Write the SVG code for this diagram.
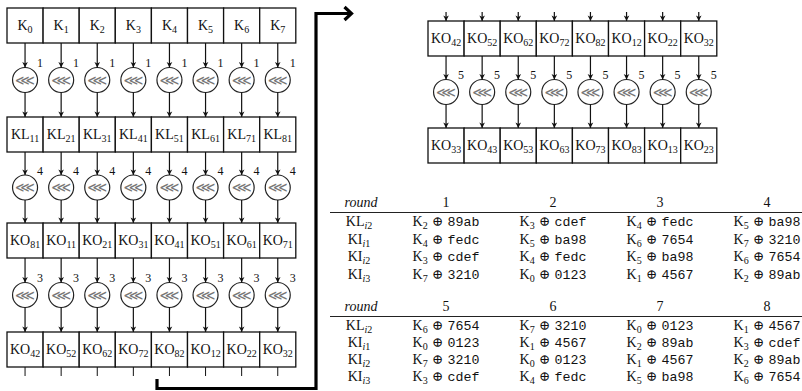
<svg xmlns="http://www.w3.org/2000/svg" width="802" height="391" viewBox="0 0 802 391">
<defs>
<marker id="ah" viewBox="-6 -4 7 8" refX="0" refY="0" markerWidth="7" markerHeight="8" markerUnits="userSpaceOnUse" orient="auto">
<path d="M0,0 L-5.5,-2.8 L-4,0 L-5.5,2.8 Z" fill="#111"/>
</marker>
</defs>
<style>
rect{fill:#fff;stroke:#111;stroke-width:1.3}
text{font-family:"Liberation Serif",serif;fill:#111}
.bt{font-size:14px;text-anchor:middle}
.s{font-size:10px}
circle{fill:#fff;stroke:#222;stroke-width:1.2}
.rot{font-family:"DejaVu Sans",sans-serif;font-size:14px;fill:#777;text-anchor:middle}
.lb{font-size:12px;text-anchor:middle}
.cn line{stroke:#111;stroke-width:1.2;marker-end:url(#ah)}
.cn line.tk{marker-end:none;stroke-width:1}
.tb{font-size:14px;text-anchor:middle}
.ts{font-size:10px}
.m{font-family:"Liberation Mono","DejaVu Sans Mono",monospace;font-size:13.3px}
.op{font-family:"DejaVu Serif",serif;font-size:13.5px}
.i{font-style:italic}
.rule{stroke:#222;stroke-width:1.2}
.thick{fill:none;stroke:#000;stroke-width:3.2}
</style>

<!-- Left block row 1 -->
<g id="k0"><rect x="7" y="8" width="36.1" height="35"/><text class="bt" x="25.05" y="30">K<tspan class="s" dy="3">0</tspan></text></g>
<g id="k1"><rect x="43.1" y="8" width="36.1" height="35"/><text class="bt" x="61.15" y="30">K<tspan class="s" dy="3">1</tspan></text></g>
<g id="k2"><rect x="79.2" y="8" width="36.1" height="35"/><text class="bt" x="97.25" y="30">K<tspan class="s" dy="3">2</tspan></text></g>
<g id="k3"><rect x="115.3" y="8" width="36.1" height="35"/><text class="bt" x="133.35" y="30">K<tspan class="s" dy="3">3</tspan></text></g>
<g id="k4"><rect x="151.4" y="8" width="36.1" height="35"/><text class="bt" x="169.45" y="30">K<tspan class="s" dy="3">4</tspan></text></g>
<g id="k5"><rect x="187.5" y="8" width="36.1" height="35"/><text class="bt" x="205.55" y="30">K<tspan class="s" dy="3">5</tspan></text></g>
<g id="k6"><rect x="223.6" y="8" width="36.1" height="35"/><text class="bt" x="241.65" y="30">K<tspan class="s" dy="3">6</tspan></text></g>
<g id="k7"><rect x="259.7" y="8" width="36.1" height="35"/><text class="bt" x="277.75" y="30">K<tspan class="s" dy="3">7</tspan></text></g>

<!-- rotations row 1 -->
<g id="r1-0"><circle cx="25.05" cy="80" r="12.5"/><text class="rot" x="25.05" y="84.5">⋘</text><text class="lb" x="40" y="67">1</text></g>
<g id="r1-1"><circle cx="61.15" cy="80" r="12.5"/><text class="rot" x="61.15" y="84.5">⋘</text><text class="lb" x="76.1" y="67">1</text></g>
<g id="r1-2"><circle cx="97.25" cy="80" r="12.5"/><text class="rot" x="97.25" y="84.5">⋘</text><text class="lb" x="112.2" y="67">1</text></g>
<g id="r1-3"><circle cx="133.35" cy="80" r="12.5"/><text class="rot" x="133.35" y="84.5">⋘</text><text class="lb" x="148.3" y="67">1</text></g>
<g id="r1-4"><circle cx="169.45" cy="80" r="12.5"/><text class="rot" x="169.45" y="84.5">⋘</text><text class="lb" x="184.4" y="67">1</text></g>
<g id="r1-5"><circle cx="205.55" cy="80" r="12.5"/><text class="rot" x="205.55" y="84.5">⋘</text><text class="lb" x="220.5" y="67">1</text></g>
<g id="r1-6"><circle cx="241.65" cy="80" r="12.5"/><text class="rot" x="241.65" y="84.5">⋘</text><text class="lb" x="256.6" y="67">1</text></g>
<g id="r1-7"><circle cx="277.75" cy="80" r="12.5"/><text class="rot" x="277.75" y="84.5">⋘</text><text class="lb" x="292.7" y="67">1</text></g>

<!-- row 2 -->
<g id="kl11"><rect x="7" y="117" width="36.1" height="35"/><text class="bt" x="25.05" y="139">KL<tspan class="s" dy="3">11</tspan></text></g>
<g id="kl21"><rect x="43.1" y="117" width="36.1" height="35"/><text class="bt" x="61.15" y="139">KL<tspan class="s" dy="3">21</tspan></text></g>
<g id="kl31"><rect x="79.2" y="117" width="36.1" height="35"/><text class="bt" x="97.25" y="139">KL<tspan class="s" dy="3">31</tspan></text></g>
<g id="kl41"><rect x="115.3" y="117" width="36.1" height="35"/><text class="bt" x="133.35" y="139">KL<tspan class="s" dy="3">41</tspan></text></g>
<g id="kl51"><rect x="151.4" y="117" width="36.1" height="35"/><text class="bt" x="169.45" y="139">KL<tspan class="s" dy="3">51</tspan></text></g>
<g id="kl61"><rect x="187.5" y="117" width="36.1" height="35"/><text class="bt" x="205.55" y="139">KL<tspan class="s" dy="3">61</tspan></text></g>
<g id="kl71"><rect x="223.6" y="117" width="36.1" height="35"/><text class="bt" x="241.65" y="139">KL<tspan class="s" dy="3">71</tspan></text></g>
<g id="kl81"><rect x="259.7" y="117" width="36.1" height="35"/><text class="bt" x="277.75" y="139">KL<tspan class="s" dy="3">81</tspan></text></g>

<!-- rotations row 2 -->
<g id="r2-0"><circle cx="25.05" cy="187.5" r="12.5"/><text class="rot" x="25.05" y="192">⋘</text><text class="lb" x="40" y="174.5">4</text></g>
<g id="r2-1"><circle cx="61.15" cy="187.5" r="12.5"/><text class="rot" x="61.15" y="192">⋘</text><text class="lb" x="76.1" y="174.5">4</text></g>
<g id="r2-2"><circle cx="97.25" cy="187.5" r="12.5"/><text class="rot" x="97.25" y="192">⋘</text><text class="lb" x="112.2" y="174.5">4</text></g>
<g id="r2-3"><circle cx="133.35" cy="187.5" r="12.5"/><text class="rot" x="133.35" y="192">⋘</text><text class="lb" x="148.3" y="174.5">4</text></g>
<g id="r2-4"><circle cx="169.45" cy="187.5" r="12.5"/><text class="rot" x="169.45" y="192">⋘</text><text class="lb" x="184.4" y="174.5">4</text></g>
<g id="r2-5"><circle cx="205.55" cy="187.5" r="12.5"/><text class="rot" x="205.55" y="192">⋘</text><text class="lb" x="220.5" y="174.5">4</text></g>
<g id="r2-6"><circle cx="241.65" cy="187.5" r="12.5"/><text class="rot" x="241.65" y="192">⋘</text><text class="lb" x="256.6" y="174.5">4</text></g>
<g id="r2-7"><circle cx="277.75" cy="187.5" r="12.5"/><text class="rot" x="277.75" y="192">⋘</text><text class="lb" x="292.7" y="174.5">4</text></g>

<!-- row 3 -->
<g id="ko81a"><rect x="7" y="223" width="36.1" height="35"/><text class="bt" x="25.05" y="245">KO<tspan class="s" dy="3">81</tspan></text></g>
<g id="ko11a"><rect x="43.1" y="223" width="36.1" height="35"/><text class="bt" x="61.15" y="245">KO<tspan class="s" dy="3">11</tspan></text></g>
<g id="ko21a"><rect x="79.2" y="223" width="36.1" height="35"/><text class="bt" x="97.25" y="245">KO<tspan class="s" dy="3">21</tspan></text></g>
<g id="ko31a"><rect x="115.3" y="223" width="36.1" height="35"/><text class="bt" x="133.35" y="245">KO<tspan class="s" dy="3">31</tspan></text></g>
<g id="ko41a"><rect x="151.4" y="223" width="36.1" height="35"/><text class="bt" x="169.45" y="245">KO<tspan class="s" dy="3">41</tspan></text></g>
<g id="ko51a"><rect x="187.5" y="223" width="36.1" height="35"/><text class="bt" x="205.55" y="245">KO<tspan class="s" dy="3">51</tspan></text></g>
<g id="ko61a"><rect x="223.6" y="223" width="36.1" height="35"/><text class="bt" x="241.65" y="245">KO<tspan class="s" dy="3">61</tspan></text></g>
<g id="ko71a"><rect x="259.7" y="223" width="36.1" height="35"/><text class="bt" x="277.75" y="245">KO<tspan class="s" dy="3">71</tspan></text></g>

<!-- rotations row 3 -->
<g id="r3-0"><circle cx="25.05" cy="295" r="12.5"/><text class="rot" x="25.05" y="299.5">⋘</text><text class="lb" x="40" y="282">3</text></g>
<g id="r3-1"><circle cx="61.15" cy="295" r="12.5"/><text class="rot" x="61.15" y="299.5">⋘</text><text class="lb" x="76.1" y="282">3</text></g>
<g id="r3-2"><circle cx="97.25" cy="295" r="12.5"/><text class="rot" x="97.25" y="299.5">⋘</text><text class="lb" x="112.2" y="282">3</text></g>
<g id="r3-3"><circle cx="133.35" cy="295" r="12.5"/><text class="rot" x="133.35" y="299.5">⋘</text><text class="lb" x="148.3" y="282">3</text></g>
<g id="r3-4"><circle cx="169.45" cy="295" r="12.5"/><text class="rot" x="169.45" y="299.5">⋘</text><text class="lb" x="184.4" y="282">3</text></g>
<g id="r3-5"><circle cx="205.55" cy="295" r="12.5"/><text class="rot" x="205.55" y="299.5">⋘</text><text class="lb" x="220.5" y="282">3</text></g>
<g id="r3-6"><circle cx="241.65" cy="295" r="12.5"/><text class="rot" x="241.65" y="299.5">⋘</text><text class="lb" x="256.6" y="282">3</text></g>
<g id="r3-7"><circle cx="277.75" cy="295" r="12.5"/><text class="rot" x="277.75" y="299.5">⋘</text><text class="lb" x="292.7" y="282">3</text></g>

<!-- row 4 -->
<g id="ko42a"><rect x="7" y="332" width="36.1" height="35"/><text class="bt" x="25.05" y="354">KO<tspan class="s" dy="3">42</tspan></text></g>
<g id="ko52a"><rect x="43.1" y="332" width="36.1" height="35"/><text class="bt" x="61.15" y="354">KO<tspan class="s" dy="3">52</tspan></text></g>
<g id="ko62a"><rect x="79.2" y="332" width="36.1" height="35"/><text class="bt" x="97.25" y="354">KO<tspan class="s" dy="3">62</tspan></text></g>
<g id="ko72a"><rect x="115.3" y="332" width="36.1" height="35"/><text class="bt" x="133.35" y="354">KO<tspan class="s" dy="3">72</tspan></text></g>
<g id="ko82a"><rect x="151.4" y="332" width="36.1" height="35"/><text class="bt" x="169.45" y="354">KO<tspan class="s" dy="3">82</tspan></text></g>
<g id="ko12a"><rect x="187.5" y="332" width="36.1" height="35"/><text class="bt" x="205.55" y="354">KO<tspan class="s" dy="3">12</tspan></text></g>
<g id="ko22a"><rect x="223.6" y="332" width="36.1" height="35"/><text class="bt" x="241.65" y="354">KO<tspan class="s" dy="3">22</tspan></text></g>
<g id="ko32a"><rect x="259.7" y="332" width="36.1" height="35"/><text class="bt" x="277.75" y="354">KO<tspan class="s" dy="3">32</tspan></text></g>

<!-- Right block top row -->
<g id="ko42b"><rect x="428" y="21" width="36.1" height="35"/><text class="bt" x="446.05" y="43">KO<tspan class="s" dy="3">42</tspan></text></g>
<g id="ko52b"><rect x="464.1" y="21" width="36.1" height="35"/><text class="bt" x="482.15" y="43">KO<tspan class="s" dy="3">52</tspan></text></g>
<g id="ko62b"><rect x="500.2" y="21" width="36.1" height="35"/><text class="bt" x="518.25" y="43">KO<tspan class="s" dy="3">62</tspan></text></g>
<g id="ko72b"><rect x="536.3" y="21" width="36.1" height="35"/><text class="bt" x="554.35" y="43">KO<tspan class="s" dy="3">72</tspan></text></g>
<g id="ko82b"><rect x="572.4" y="21" width="36.1" height="35"/><text class="bt" x="590.45" y="43">KO<tspan class="s" dy="3">82</tspan></text></g>
<g id="ko12b"><rect x="608.5" y="21" width="36.1" height="35"/><text class="bt" x="626.55" y="43">KO<tspan class="s" dy="3">12</tspan></text></g>
<g id="ko22b"><rect x="644.6" y="21" width="36.1" height="35"/><text class="bt" x="662.65" y="43">KO<tspan class="s" dy="3">22</tspan></text></g>
<g id="ko32b"><rect x="680.7" y="21" width="36.1" height="35"/><text class="bt" x="698.75" y="43">KO<tspan class="s" dy="3">32</tspan></text></g>

<!-- right rotations -->
<g id="r4-0"><circle cx="446.05" cy="92" r="12.5"/><text class="rot" x="446.05" y="96.5">⋘</text><text class="lb" x="461" y="79">5</text></g>
<g id="r4-1"><circle cx="482.15" cy="92" r="12.5"/><text class="rot" x="482.15" y="96.5">⋘</text><text class="lb" x="497.1" y="79">5</text></g>
<g id="r4-2"><circle cx="518.25" cy="92" r="12.5"/><text class="rot" x="518.25" y="96.5">⋘</text><text class="lb" x="533.2" y="79">5</text></g>
<g id="r4-3"><circle cx="554.35" cy="92" r="12.5"/><text class="rot" x="554.35" y="96.5">⋘</text><text class="lb" x="569.3" y="79">5</text></g>
<g id="r4-4"><circle cx="590.45" cy="92" r="12.5"/><text class="rot" x="590.45" y="96.5">⋘</text><text class="lb" x="605.4" y="79">5</text></g>
<g id="r4-5"><circle cx="626.55" cy="92" r="12.5"/><text class="rot" x="626.55" y="96.5">⋘</text><text class="lb" x="641.5" y="79">5</text></g>
<g id="r4-6"><circle cx="662.65" cy="92" r="12.5"/><text class="rot" x="662.65" y="96.5">⋘</text><text class="lb" x="677.6" y="79">5</text></g>
<g id="r4-7"><circle cx="698.75" cy="92" r="12.5"/><text class="rot" x="698.75" y="96.5">⋘</text><text class="lb" x="713.7" y="79">5</text></g>

<!-- right bottom row -->
<g id="ko33"><rect x="428" y="128" width="36.1" height="35"/><text class="bt" x="446.05" y="150">KO<tspan class="s" dy="3">33</tspan></text></g>
<g id="ko43"><rect x="464.1" y="128" width="36.1" height="35"/><text class="bt" x="482.15" y="150">KO<tspan class="s" dy="3">43</tspan></text></g>
<g id="ko53"><rect x="500.2" y="128" width="36.1" height="35"/><text class="bt" x="518.25" y="150">KO<tspan class="s" dy="3">53</tspan></text></g>
<g id="ko63"><rect x="536.3" y="128" width="36.1" height="35"/><text class="bt" x="554.35" y="150">KO<tspan class="s" dy="3">63</tspan></text></g>
<g id="ko73"><rect x="572.4" y="128" width="36.1" height="35"/><text class="bt" x="590.45" y="150">KO<tspan class="s" dy="3">73</tspan></text></g>
<g id="ko83"><rect x="608.5" y="128" width="36.1" height="35"/><text class="bt" x="626.55" y="150">KO<tspan class="s" dy="3">83</tspan></text></g>
<g id="ko13"><rect x="644.6" y="128" width="36.1" height="35"/><text class="bt" x="662.65" y="150">KO<tspan class="s" dy="3">13</tspan></text></g>
<g id="ko23"><rect x="680.7" y="128" width="36.1" height="35"/><text class="bt" x="698.75" y="150">KO<tspan class="s" dy="3">23</tspan></text></g>

<!-- connectors -->
<g id="connectors" class="cn">
<line x1="25.05" y1="43" x2="25.05" y2="67.5"/><line x1="61.15" y1="43" x2="61.15" y2="67.5"/><line x1="97.25" y1="43" x2="97.25" y2="67.5"/><line x1="133.35" y1="43" x2="133.35" y2="67.5"/><line x1="169.45" y1="43" x2="169.45" y2="67.5"/><line x1="205.55" y1="43" x2="205.55" y2="67.5"/><line x1="241.65" y1="43" x2="241.65" y2="67.5"/><line x1="277.75" y1="43" x2="277.75" y2="67.5"/>
<line x1="25.05" y1="92.5" x2="25.05" y2="117"/><line x1="61.15" y1="92.5" x2="61.15" y2="117"/><line x1="97.25" y1="92.5" x2="97.25" y2="117"/><line x1="133.35" y1="92.5" x2="133.35" y2="117"/><line x1="169.45" y1="92.5" x2="169.45" y2="117"/><line x1="205.55" y1="92.5" x2="205.55" y2="117"/><line x1="241.65" y1="92.5" x2="241.65" y2="117"/><line x1="277.75" y1="92.5" x2="277.75" y2="117"/>
<line x1="25.05" y1="152" x2="25.05" y2="175"/><line x1="61.15" y1="152" x2="61.15" y2="175"/><line x1="97.25" y1="152" x2="97.25" y2="175"/><line x1="133.35" y1="152" x2="133.35" y2="175"/><line x1="169.45" y1="152" x2="169.45" y2="175"/><line x1="205.55" y1="152" x2="205.55" y2="175"/><line x1="241.65" y1="152" x2="241.65" y2="175"/><line x1="277.75" y1="152" x2="277.75" y2="175"/>
<line x1="25.05" y1="200" x2="25.05" y2="223"/><line x1="61.15" y1="200" x2="61.15" y2="223"/><line x1="97.25" y1="200" x2="97.25" y2="223"/><line x1="133.35" y1="200" x2="133.35" y2="223"/><line x1="169.45" y1="200" x2="169.45" y2="223"/><line x1="205.55" y1="200" x2="205.55" y2="223"/><line x1="241.65" y1="200" x2="241.65" y2="223"/><line x1="277.75" y1="200" x2="277.75" y2="223"/>
<line x1="25.05" y1="258" x2="25.05" y2="282.5"/><line x1="61.15" y1="258" x2="61.15" y2="282.5"/><line x1="97.25" y1="258" x2="97.25" y2="282.5"/><line x1="133.35" y1="258" x2="133.35" y2="282.5"/><line x1="169.45" y1="258" x2="169.45" y2="282.5"/><line x1="205.55" y1="258" x2="205.55" y2="282.5"/><line x1="241.65" y1="258" x2="241.65" y2="282.5"/><line x1="277.75" y1="258" x2="277.75" y2="282.5"/>
<line x1="25.05" y1="307.5" x2="25.05" y2="332"/><line x1="61.15" y1="307.5" x2="61.15" y2="332"/><line x1="97.25" y1="307.5" x2="97.25" y2="332"/><line x1="133.35" y1="307.5" x2="133.35" y2="332"/><line x1="169.45" y1="307.5" x2="169.45" y2="332"/><line x1="205.55" y1="307.5" x2="205.55" y2="332"/><line x1="241.65" y1="307.5" x2="241.65" y2="332"/><line x1="277.75" y1="307.5" x2="277.75" y2="332"/>
<line class="tk" x1="25.05" y1="367" x2="25.05" y2="376"/><line class="tk" x1="61.15" y1="367" x2="61.15" y2="376"/><line class="tk" x1="97.25" y1="367" x2="97.25" y2="376"/><line class="tk" x1="133.35" y1="367" x2="133.35" y2="376"/><line class="tk" x1="169.45" y1="367" x2="169.45" y2="376"/><line class="tk" x1="205.55" y1="367" x2="205.55" y2="376"/><line class="tk" x1="241.65" y1="367" x2="241.65" y2="376"/><line class="tk" x1="277.75" y1="367" x2="277.75" y2="376"/>
<line x1="446.05" y1="12" x2="446.05" y2="21"/><line x1="482.15" y1="12" x2="482.15" y2="21"/><line x1="518.25" y1="12" x2="518.25" y2="21"/><line x1="554.35" y1="12" x2="554.35" y2="21"/><line x1="590.45" y1="12" x2="590.45" y2="21"/><line x1="626.55" y1="12" x2="626.55" y2="21"/><line x1="662.65" y1="12" x2="662.65" y2="21"/><line x1="698.75" y1="12" x2="698.75" y2="21"/>
<line x1="446.05" y1="56" x2="446.05" y2="79.5"/><line x1="482.15" y1="56" x2="482.15" y2="79.5"/><line x1="518.25" y1="56" x2="518.25" y2="79.5"/><line x1="554.35" y1="56" x2="554.35" y2="79.5"/><line x1="590.45" y1="56" x2="590.45" y2="79.5"/><line x1="626.55" y1="56" x2="626.55" y2="79.5"/><line x1="662.65" y1="56" x2="662.65" y2="79.5"/><line x1="698.75" y1="56" x2="698.75" y2="79.5"/>
<line x1="446.05" y1="104.5" x2="446.05" y2="128"/><line x1="482.15" y1="104.5" x2="482.15" y2="128"/><line x1="518.25" y1="104.5" x2="518.25" y2="128"/><line x1="554.35" y1="104.5" x2="554.35" y2="128"/><line x1="590.45" y1="104.5" x2="590.45" y2="128"/><line x1="626.55" y1="104.5" x2="626.55" y2="128"/><line x1="662.65" y1="104.5" x2="662.65" y2="128"/><line x1="698.75" y1="104.5" x2="698.75" y2="128"/>
<path class="thick" d="M157,379 V388.5 H316 V13.5 H351"/>
<path class="thick" d="M344.5,7 L351.5,13.5 L344.5,20"/>
</g>

<!-- table 1 -->
<g id="table1">
<text class="tb i" x="361" y="207">round</text>
<text class="tb" x="446" y="207">1</text><text class="tb" x="553" y="207">2</text><text class="tb" x="660" y="207">3</text><text class="tb" x="767" y="207">4</text>
<line class="rule" x1="330" y1="212.5" x2="802" y2="212.5"/>
<text class="tb" x="359" y="226">KL<tspan class="ts i" dy="3">i</tspan><tspan class="ts">2</tspan></text>
<text class="tb" x="359" y="243.5">KI<tspan class="ts i" dy="3">i</tspan><tspan class="ts">1</tspan></text>
<text class="tb" x="359" y="261">KI<tspan class="ts i" dy="3">i</tspan><tspan class="ts">2</tspan></text>
<text class="tb" x="359" y="278.5">KI<tspan class="ts i" dy="3">i</tspan><tspan class="ts">3</tspan></text>
<text class="tb" x="446" y="226">K<tspan class="ts" dy="3">2</tspan><tspan class="op" dy="-3"> ⊕ </tspan><tspan class="m">89ab</tspan></text>
<text class="tb" x="553" y="226">K<tspan class="ts" dy="3">3</tspan><tspan class="op" dy="-3"> ⊕ </tspan><tspan class="m">cdef</tspan></text>
<text class="tb" x="660" y="226">K<tspan class="ts" dy="3">4</tspan><tspan class="op" dy="-3"> ⊕ </tspan><tspan class="m">fedc</tspan></text>
<text class="tb" x="767" y="226">K<tspan class="ts" dy="3">5</tspan><tspan class="op" dy="-3"> ⊕ </tspan><tspan class="m">ba98</tspan></text>
<text class="tb" x="446" y="243.5">K<tspan class="ts" dy="3">4</tspan><tspan class="op" dy="-3"> ⊕ </tspan><tspan class="m">fedc</tspan></text>
<text class="tb" x="553" y="243.5">K<tspan class="ts" dy="3">5</tspan><tspan class="op" dy="-3"> ⊕ </tspan><tspan class="m">ba98</tspan></text>
<text class="tb" x="660" y="243.5">K<tspan class="ts" dy="3">6</tspan><tspan class="op" dy="-3"> ⊕ </tspan><tspan class="m">7654</tspan></text>
<text class="tb" x="767" y="243.5">K<tspan class="ts" dy="3">7</tspan><tspan class="op" dy="-3"> ⊕ </tspan><tspan class="m">3210</tspan></text>
<text class="tb" x="446" y="261">K<tspan class="ts" dy="3">3</tspan><tspan class="op" dy="-3"> ⊕ </tspan><tspan class="m">cdef</tspan></text>
<text class="tb" x="553" y="261">K<tspan class="ts" dy="3">4</tspan><tspan class="op" dy="-3"> ⊕ </tspan><tspan class="m">fedc</tspan></text>
<text class="tb" x="660" y="261">K<tspan class="ts" dy="3">5</tspan><tspan class="op" dy="-3"> ⊕ </tspan><tspan class="m">ba98</tspan></text>
<text class="tb" x="767" y="261">K<tspan class="ts" dy="3">6</tspan><tspan class="op" dy="-3"> ⊕ </tspan><tspan class="m">7654</tspan></text>
<text class="tb" x="446" y="278.5">K<tspan class="ts" dy="3">7</tspan><tspan class="op" dy="-3"> ⊕ </tspan><tspan class="m">3210</tspan></text>
<text class="tb" x="553" y="278.5">K<tspan class="ts" dy="3">0</tspan><tspan class="op" dy="-3"> ⊕ </tspan><tspan class="m">0123</tspan></text>
<text class="tb" x="660" y="278.5">K<tspan class="ts" dy="3">1</tspan><tspan class="op" dy="-3"> ⊕ </tspan><tspan class="m">4567</tspan></text>
<text class="tb" x="767" y="278.5">K<tspan class="ts" dy="3">2</tspan><tspan class="op" dy="-3"> ⊕ </tspan><tspan class="m">89ab</tspan></text>
</g>

<!-- table 2 -->
<g id="table2">
<text class="tb i" x="361" y="311">round</text>
<text class="tb" x="446" y="311">5</text><text class="tb" x="553" y="311">6</text><text class="tb" x="660" y="311">7</text><text class="tb" x="767" y="311">8</text>
<line class="rule" x1="330" y1="316.5" x2="802" y2="316.5"/>
<text class="tb" x="359" y="330">KL<tspan class="ts i" dy="3">i</tspan><tspan class="ts">2</tspan></text>
<text class="tb" x="359" y="347">KI<tspan class="ts i" dy="3">i</tspan><tspan class="ts">1</tspan></text>
<text class="tb" x="359" y="364">KI<tspan class="ts i" dy="3">i</tspan><tspan class="ts">2</tspan></text>
<text class="tb" x="359" y="381">KI<tspan class="ts i" dy="3">i</tspan><tspan class="ts">3</tspan></text>
<text class="tb" x="446" y="330">K<tspan class="ts" dy="3">6</tspan><tspan class="op" dy="-3"> ⊕ </tspan><tspan class="m">7654</tspan></text>
<text class="tb" x="553" y="330">K<tspan class="ts" dy="3">7</tspan><tspan class="op" dy="-3"> ⊕ </tspan><tspan class="m">3210</tspan></text>
<text class="tb" x="660" y="330">K<tspan class="ts" dy="3">0</tspan><tspan class="op" dy="-3"> ⊕ </tspan><tspan class="m">0123</tspan></text>
<text class="tb" x="767" y="330">K<tspan class="ts" dy="3">1</tspan><tspan class="op" dy="-3"> ⊕ </tspan><tspan class="m">4567</tspan></text>
<text class="tb" x="446" y="347">K<tspan class="ts" dy="3">0</tspan><tspan class="op" dy="-3"> ⊕ </tspan><tspan class="m">0123</tspan></text>
<text class="tb" x="553" y="347">K<tspan class="ts" dy="3">1</tspan><tspan class="op" dy="-3"> ⊕ </tspan><tspan class="m">4567</tspan></text>
<text class="tb" x="660" y="347">K<tspan class="ts" dy="3">2</tspan><tspan class="op" dy="-3"> ⊕ </tspan><tspan class="m">89ab</tspan></text>
<text class="tb" x="767" y="347">K<tspan class="ts" dy="3">3</tspan><tspan class="op" dy="-3"> ⊕ </tspan><tspan class="m">cdef</tspan></text>
<text class="tb" x="446" y="364">K<tspan class="ts" dy="3">7</tspan><tspan class="op" dy="-3"> ⊕ </tspan><tspan class="m">3210</tspan></text>
<text class="tb" x="553" y="364">K<tspan class="ts" dy="3">0</tspan><tspan class="op" dy="-3"> ⊕ </tspan><tspan class="m">0123</tspan></text>
<text class="tb" x="660" y="364">K<tspan class="ts" dy="3">1</tspan><tspan class="op" dy="-3"> ⊕ </tspan><tspan class="m">4567</tspan></text>
<text class="tb" x="767" y="364">K<tspan class="ts" dy="3">2</tspan><tspan class="op" dy="-3"> ⊕ </tspan><tspan class="m">89ab</tspan></text>
<text class="tb" x="446" y="381">K<tspan class="ts" dy="3">3</tspan><tspan class="op" dy="-3"> ⊕ </tspan><tspan class="m">cdef</tspan></text>
<text class="tb" x="553" y="381">K<tspan class="ts" dy="3">4</tspan><tspan class="op" dy="-3"> ⊕ </tspan><tspan class="m">fedc</tspan></text>
<text class="tb" x="660" y="381">K<tspan class="ts" dy="3">5</tspan><tspan class="op" dy="-3"> ⊕ </tspan><tspan class="m">ba98</tspan></text>
<text class="tb" x="767" y="381">K<tspan class="ts" dy="3">6</tspan><tspan class="op" dy="-3"> ⊕ </tspan><tspan class="m">7654</tspan></text>
</g>
</svg>
